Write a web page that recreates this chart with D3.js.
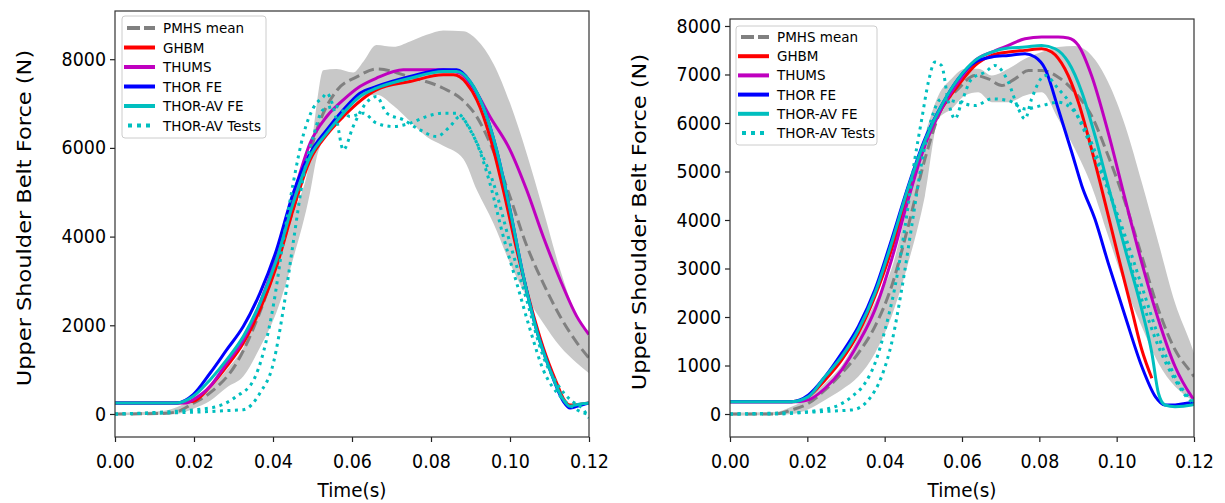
<!DOCTYPE html>
<html><head><meta charset="utf-8">
<script src="https://cdn.jsdelivr.net/npm/d3@7"></script>
<style>body{margin:0;background:#fff}svg{display:block}text{font-family:"DejaVu Sans",sans-serif;fill:#000}</style>
</head><body><svg id="c" width="1225" height="503"></svg>
<script>
// ---------- DATA ----------
const seriesNames = ["PMHS mean","GHBM","THUMS","THOR FE","THOR-AV FE","THOR-AV Tests"];
const xTicks = [0,0.02,0.04,0.06,0.08,0.10,0.12];
const yTicksLeft = [0,2000,4000,6000,8000];
const yTicksRight = [0,1000,2000,3000,4000,5000,6000,7000,8000];
const xLabel = "Time(s)";
const yLabel = "Upper Shoulder Belt Force (N)";

// Left panel: [time (s), force (N)]
const L_bandT  = [0,0.0114,0.0156,0.0198,0.0241,0.0283,0.0325,0.0367,0.0409,0.0451,0.0494,0.0511,0.0527,0.0561,0.0603,0.0629,0.0662,0.0705,0.0747,0.0789,0.0831,0.0882,0.0916,0.0958,0.1,0.1042,0.1084,0.1127,0.1169,0.12];
const L_bandHi = [30,60,150,350,600,1000,1500,2300,3300,4500,5800,7000,7750,7780,7700,7950,8320,8280,8400,8550,8650,8630,8440,7900,7010,5880,4600,3250,2200,1750];
const L_bandLo = [-30,-20,0,120,300,600,850,1500,2300,3500,5000,5800,6200,6700,7000,7150,7200,6950,6600,6250,6050,5750,5050,4300,3400,2650,2050,1520,1150,920];
const L_pmhs  = [[0,0],[0.012,10],[0.016,60],[0.019,200],[0.0241,480],[0.0308,1150],[0.0367,2300],[0.0425,3850],[0.0476,5350],[0.052,6630],[0.0562,7300],[0.0612,7600],[0.0663,7780],[0.0747,7600],[0.083,7350],[0.088,7080],[0.0916,6700],[0.0957,5950],[0.1,4900],[0.104,3850],[0.1084,2950],[0.1127,2200],[0.117,1600],[0.12,1260]];
const L_ghbm  = [[0,248],[0.0156,248],[0.0198,285],[0.0241,623],[0.0283,1074],[0.0325,1600],[0.0367,2351],[0.0409,3328],[0.0451,4605],[0.0494,5731],[0.0536,6295],[0.0578,6708],[0.0662,7309],[0.0747,7497],[0.0831,7647],[0.0857,7647],[0.089,7459],[0.0916,7083],[0.0949,6257],[0.0983,5055],[0.1017,3703],[0.1051,2500],[0.1084,1500],[0.1118,700],[0.1135,350],[0.1152,200],[0.1169,210],[0.12,248]];
const L_thums = [[0,248],[0.0181,248],[0.0198,323],[0.0241,623],[0.0283,1149],[0.0325,1675],[0.0367,2501],[0.0409,3553],[0.0451,4905],[0.0494,6107],[0.0536,6708],[0.0578,7083],[0.062,7384],[0.0662,7572],[0.073,7760],[0.0789,7760],[0.0831,7760],[0.0873,7685],[0.0916,7234],[0.0949,6708],[0.1,5957],[0.1042,5055],[0.1084,4004],[0.1127,3027],[0.1169,2201],[0.12,1790]];
const L_thor  = [[0,248],[0.0156,248],[0.0198,436],[0.0241,924],[0.0283,1450],[0.0325,1976],[0.0367,2727],[0.0409,3703],[0.0451,4980],[0.0494,5882],[0.0536,6407],[0.0578,6858],[0.062,7234],[0.0662,7384],[0.0747,7609],[0.0831,7760],[0.0865,7760],[0.0899,7497],[0.0932,6933],[0.0966,5957],[0.1,4605],[0.1034,3102],[0.1067,1900],[0.1101,999],[0.1135,285],[0.1152,135],[0.1169,173],[0.12,248]];
const L_thorav= [[0,248],[0.0156,248],[0.0198,398],[0.0241,774],[0.0283,1224],[0.0325,1750],[0.0367,2500],[0.0409,3478],[0.0451,4755],[0.0494,5806],[0.0536,6332],[0.0578,6783],[0.062,7159],[0.0662,7347],[0.0747,7572],[0.0831,7722],[0.0865,7722],[0.0899,7497],[0.0932,6933],[0.0966,5957],[0.1,4605],[0.1034,3102],[0.1067,1900],[0.1101,999],[0.1135,323],[0.1152,173],[0.1169,210],[0.12,248]];
const L_test1 = [[0,0],[0.0241,135],[0.0308,398],[0.035,750],[0.0376,1400],[0.0401,2450],[0.0426,3900],[0.0451,5200],[0.0477,6300],[0.0502,6900],[0.0527,7150],[0.0536,7234],[0.0561,6633],[0.0578,5957],[0.0603,6483],[0.0629,6933],[0.0662,7159],[0.0688,6783],[0.073,6633],[0.0772,6407],[0.0814,6257],[0.0848,6483],[0.0873,6708],[0.0899,6407],[0.0924,5957],[0.0958,5206],[0.1,3853],[0.1042,2577],[0.1084,1300],[0.1118,699],[0.1152,323],[0.1186,98],[0.12,-90]];
const L_test2 = [[0,0],[0.0325,98],[0.0367,473],[0.0401,1149],[0.0426,2351],[0.0451,3853],[0.0477,5356],[0.0502,6257],[0.0527,6858],[0.0561,6933],[0.0595,6708],[0.0629,6783],[0.0662,6558],[0.0705,6483],[0.0747,6558],[0.0789,6708],[0.0831,6783],[0.0865,6783],[0.089,6558],[0.0916,6107],[0.0949,5206],[0.0983,4004],[0.1017,2952],[0.1051,1900],[0.1084,999],[0.1127,398],[0.1169,98],[0.12,-15]];

// Right panel
const R_bandT  = [0,0.0116,0.0159,0.0203,0.0246,0.0289,0.0332,0.0375,0.0418,0.0461,0.0504,0.0539,0.0573,0.0608,0.0642,0.0677,0.072,0.0763,0.0806,0.0849,0.0892,0.0935,0.0978,0.1022,0.1065,0.1108,0.1151,0.1194,0.12];
const R_bandHi = [30,40,150,330,634,1000,1600,2300,3000,4359,5738,6566,6910,7117,7117,6979,7117,7324,7462,7566,7586,7393,6841,5945,4772,3531,2290,1393,1255];
const R_bandLo = [-30,-20,0,100,290,500,772,1255,2014,3117,4497,6083,6290,6566,6634,6428,6428,6566,6634,6083,5462,4703,3669,2634,1800,1048,566,290,255];
const R_pmhs  = [[0,0],[0.0116,0],[0.0159,83],[0.0203,221],[0.0246,497],[0.0289,841],[0.0332,1255],[0.0375,1807],[0.0418,2634],[0.0461,3876],[0.0504,5255],[0.0547,6290],[0.059,6703],[0.0634,6979],[0.0668,6910],[0.0703,6772],[0.0737,6910],[0.0772,7083],[0.0806,7083],[0.0849,6945],[0.0892,6634],[0.0935,6150],[0.0978,5324],[0.1022,4360],[0.1065,3255],[0.1108,2152],[0.1151,1324],[0.1194,841],[0.12,772]];
const R_ghbm  = [[0,255],[0.0159,255],[0.0203,359],[0.0246,703],[0.0289,1117],[0.0332,1669],[0.0375,2428],[0.0418,3393],[0.0461,4566],[0.0504,5600],[0.0547,6290],[0.059,6772],[0.0634,7186],[0.0677,7393],[0.072,7462],[0.0763,7497],[0.0806,7531],[0.0832,7462],[0.0866,7117],[0.0901,6428],[0.0935,5462],[0.097,4359],[0.1004,3255],[0.1039,2152],[0.1065,1324],[0.1091,738]];
const R_thums = [[0,255],[0.0177,255],[0.0203,290],[0.0246,531],[0.0289,910],[0.0332,1462],[0.0375,2152],[0.0418,3186],[0.0461,4428],[0.0504,5531],[0.0547,6290],[0.059,6841],[0.0634,7290],[0.0677,7462],[0.072,7600],[0.0763,7738],[0.0806,7772],[0.0849,7772],[0.0875,7752],[0.0901,7600],[0.0935,6979],[0.0978,5807],[0.1022,4428],[0.1065,3117],[0.1108,1945],[0.1151,979],[0.1194,359],[0.12,290]];
const R_thor  = [[0,255],[0.0159,255],[0.0203,393],[0.0246,772],[0.0289,1255],[0.0332,1807],[0.0375,2566],[0.0418,3600],[0.0461,4703],[0.0504,5669],[0.0547,6359],[0.059,6910],[0.0634,7255],[0.0677,7359],[0.072,7393],[0.0763,7428],[0.0789,7359],[0.0815,7117],[0.0849,6290],[0.0884,5393],[0.091,4703],[0.0944,4014],[0.0978,3117],[0.1022,2014],[0.1065,979],[0.11,359],[0.1125,186],[0.1151,186],[0.1194,234],[0.12,234]];
const R_thorav= [[0,255],[0.0159,255],[0.0203,359],[0.0246,772],[0.0289,1186],[0.0332,1738],[0.0375,2497],[0.0418,3531],[0.0461,4669],[0.0504,5634],[0.0547,6359],[0.059,6910],[0.0634,7290],[0.0677,7462],[0.072,7545],[0.0763,7566],[0.0806,7600],[0.0841,7531],[0.0875,7255],[0.091,6634],[0.0944,5738],[0.0978,4703],[0.1022,3393],[0.1065,2152],[0.1091,1255],[0.1108,428],[0.1125,186],[0.1151,152],[0.1194,186],[0.12,200]];
const R_test1 = [[0,0],[0.0116,0],[0.0203,48],[0.0272,152],[0.0315,359],[0.0349,634],[0.0375,1048],[0.0401,1738],[0.0427,2634],[0.0453,3876],[0.0478,5255],[0.0496,6083],[0.0513,6841],[0.053,7255],[0.0547,7186],[0.0565,6428],[0.0582,6083],[0.0599,6428],[0.0625,6910],[0.066,7048],[0.0685,7186],[0.072,6841],[0.0746,6290],[0.0763,6083],[0.078,6497],[0.0815,6979],[0.0849,6703],[0.0884,6359],[0.0918,5807],[0.0953,5117],[0.0987,4428],[0.1022,3669],[0.1065,2634],[0.1108,1600],[0.1151,772],[0.1194,290],[0.12,255]];
const R_test2 = [[0,0],[0.0315,83],[0.0358,290],[0.0392,772],[0.0418,1462],[0.0444,2566],[0.047,3876],[0.0496,5186],[0.0521,6083],[0.0547,6497],[0.059,6428],[0.0634,6359],[0.0677,6497],[0.072,6462],[0.0763,6290],[0.0806,6359],[0.0849,6428],[0.0892,6221],[0.0927,5738],[0.0961,5048],[0.0996,4221],[0.103,3255],[0.1065,2359],[0.1108,1393],[0.1151,703],[0.1194,255],[0.12,230]];

// ---------- STYLE ----------
const colors = {pmhs:"#808080", ghbm:"#ff0000", thums:"#bf00bf", thor:"#0000ff", thorav:"#00bfbf", band:"#c8c8c8"};
const styles = [
  {c:colors.pmhs, w:3, dash:"11,5"},
  {c:colors.ghbm, w:3, dash:null},
  {c:colors.thums, w:3, dash:null},
  {c:colors.thor, w:3, dash:null},
  {c:colors.thorav, w:3, dash:null},
  {c:colors.thorav, w:3, dash:"3,4.5"}
];

const svg = d3.select("#c");
const SX = 0.92;

function panel(cfg){
  const {x0,x1,y0,y1,yDom,yTicks,band,pmhs,ghbm,thums,thor,thorav,tests,legend,ylabX,ylabY,id} = cfg;
  const x = d3.scaleLinear().domain([0,0.12]).range([x0,x1]);
  const y = d3.scaleLinear().domain(yDom).range([y1,y0]);
  const g = svg.append("g");
  g.append("clipPath").attr("id",id).append("rect").attr("x",x0).attr("y",y0).attr("width",x1-x0).attr("height",y1-y0);
  const plot = g.append("g").attr("clip-path",`url(#${id})`);
  const area = d3.area().x(d=>x(d[0])).y0(d=>y(d[1])).y1(d=>y(d[2])).curve(d3.curveMonotoneX);
  plot.append("path").datum(band.T.map((t,i)=>[t,band.lo[i],band.hi[i]])).attr("d",area).attr("fill",colors.band);
  const line = d3.line().x(d=>x(d[0])).y(d=>y(d[1])).curve(d3.curveMonotoneX);
  const drawn = [[pmhs,0],[ghbm,1],[thums,2],[thor,3],[thorav,4]].concat(tests.map(t=>[t,5]));
  drawn.forEach(([data,si])=>{
    const s=styles[si];
    const p=plot.append("path").datum(data).attr("d",line).attr("fill","none").attr("stroke",s.c).attr("stroke-width",s.w).attr("stroke-linejoin","round");
    if(s.dash) p.attr("stroke-dasharray",s.dash);
  });
  // axes
  const xa = g.append("g").attr("transform",`translate(0,${y1})`).call(d3.axisBottom(x).tickValues(xTicks).tickFormat(d3.format(".2f")).tickSize(5).tickPadding(13));
  const ya = g.append("g").attr("transform",`translate(${x0},0)`).call(d3.axisLeft(y).tickValues(yTicks).tickFormat(d3.format("d")).tickSize(5).tickPadding(5));
  [xa,ya].forEach(a=>{a.select(".domain").remove();a.selectAll("line").attr("stroke","#222").attr("stroke-width",1.2);a.selectAll("text").attr("font-size",19).attr("font-family","DejaVu Sans").attr("fill","#111");});
  xa.selectAll(".tick text").attr("transform",`scale(${SX},1)`);
  ya.selectAll(".tick text").attr("transform",`scale(${SX},1)`).attr("x",-9/SX);
  g.append("rect").attr("x",x0).attr("y",y0).attr("width",x1-x0).attr("height",y1-y0).attr("fill","none").attr("stroke","#333").attr("stroke-width",1.2);
  g.append("text").attr("x",(x0+x1)/2/SX).attr("y",497).attr("text-anchor","middle").attr("font-size",20).attr("transform",`scale(${SX},1)`).text(xLabel);
  g.append("text").attr("transform",`translate(${ylabX},${ylabY}) scale(0.9,1) rotate(-90)`).attr("text-anchor","middle").attr("dominant-baseline","central").attr("font-size",22.5).text(yLabel);
  // legend
  const L = legend;
  const lg = g.append("g");
  lg.append("rect").attr("x",L.x).attr("y",L.y).attr("width",L.w).attr("height",L.h).attr("rx",3).attr("fill","#fff").attr("fill-opacity",0.8).attr("stroke","#ccc").attr("stroke-width",1);
  seriesNames.forEach((n,i)=>{
    const yy = L.y + L.first + i*L.step;
    const s = styles[i];
    const ln = lg.append("line").attr("x1",L.x+2).attr("x2",L.x+33).attr("y1",yy).attr("y2",yy).attr("stroke",s.c).attr("stroke-width",4);
    if(s.dash) ln.attr("stroke-dasharray", i===0?"13,4":"4,5").attr("x1", i===0?L.x+5:L.x+6);
    lg.append("text").attr("x",L.x+41).attr("y",yy).attr("dominant-baseline","central").attr("font-size",13.5).text(n);
  });
}

panel({id:"cl",x0:115,x1:589,y0:11,y1:437,yDom:[-519,9087],yTicks:yTicksLeft,
  band:{T:L_bandT,hi:L_bandHi,lo:L_bandLo},pmhs:L_pmhs,ghbm:L_ghbm,thums:L_thums,thor:L_thor,thorav:L_thorav,tests:[L_test1,L_test2],
  legend:{x:122,y:16,w:144,h:122,first:12,step:19.5},ylabX:24,ylabY:218});
panel({id:"cr",x0:730,x1:1194,y0:19,y1:437,yDom:[-474,8144],yTicks:yTicksRight,
  band:{T:R_bandT,hi:R_bandHi,lo:R_bandLo},pmhs:R_pmhs,ghbm:R_ghbm,thums:R_thums,thor:R_thor,thorav:R_thorav,tests:[R_test1,R_test2],
  legend:{x:736,y:26,w:141,h:119,first:11,step:19.2},ylabX:639,ylabY:222});
</script></body></html>
